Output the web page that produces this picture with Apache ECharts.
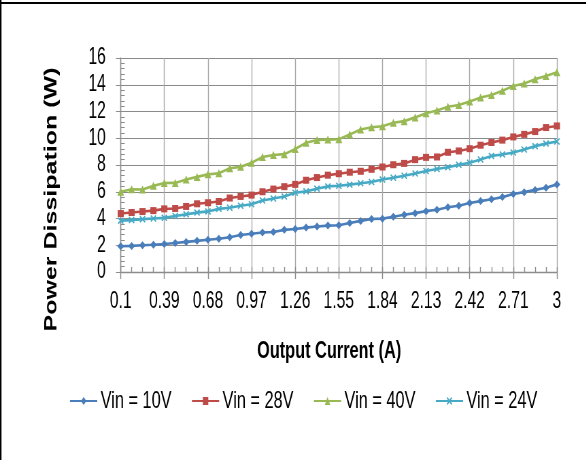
<!DOCTYPE html>
<html>
<head>
<meta charset="utf-8">
<script src="https://cdn.jsdelivr.net/npm/echarts@6/dist/echarts.min.js"></script>
<style>
html,body{margin:0;padding:0;background:#fff;overflow:hidden;width:586px;height:460px}
#c{width:862px;height:460px;transform-origin:0 0;transform:scaleX(0.68)}
</style>
</head>
<body>
<div id="c"></div>
<script>
var categories = ["0.1","0.1725","0.245","0.3175","0.39","0.4625","0.535","0.6075","0.68","0.7525","0.825","0.8975","0.97","1.0425","1.115","1.1875","1.26","1.3325","1.405","1.4775","1.55","1.6225","1.695","1.7675","1.84","1.9125","1.985","2.0575","2.13","2.2025","2.275","2.3475","2.42","2.4925","2.565","2.6375","2.71","2.7825","2.855","2.9275","3"];
var seriesNames = ["Vin = 10V","Vin = 28V","Vin = 40V","Vin = 24V"];
var vin10 = [1.93,1.95,2.0,2.04,2.09,2.17,2.25,2.33,2.41,2.49,2.6,2.77,2.86,2.95,2.99,3.15,3.22,3.32,3.4,3.47,3.5,3.66,3.82,3.96,3.99,4.13,4.28,4.4,4.55,4.66,4.84,4.95,5.16,5.3,5.44,5.6,5.83,5.97,6.14,6.3,6.55];
var vin28 = [4.37,4.45,4.52,4.59,4.72,4.75,4.9,5.1,5.18,5.27,5.53,5.65,5.75,6.0,6.2,6.38,6.55,6.86,7.06,7.24,7.35,7.46,7.53,7.68,7.85,8.02,8.12,8.4,8.57,8.6,8.95,9.05,9.22,9.48,9.68,9.86,10.1,10.29,10.5,10.8,10.92];
var vin40 = [6.0,6.19,6.17,6.44,6.65,6.66,6.91,7.11,7.3,7.38,7.76,7.86,8.17,8.6,8.75,8.81,9.2,9.66,9.87,9.9,9.92,10.28,10.65,10.82,10.9,11.16,11.28,11.56,11.87,12.07,12.35,12.48,12.75,13.05,13.24,13.56,13.9,14.09,14.42,14.65,14.94];
var vin24 = [3.84,3.88,3.95,4.0,4.05,4.19,4.31,4.44,4.53,4.72,4.8,4.95,5.07,5.35,5.5,5.64,5.93,6.03,6.23,6.4,6.45,6.53,6.63,6.73,6.92,7.05,7.2,7.37,7.55,7.7,7.83,8.01,8.17,8.41,8.68,8.79,8.93,9.16,9.41,9.6,9.76];
var yMin = 0, yMax = 16, yStep = 2;

var sans = "'Liberation Sans',Arial,sans-serif";
var xMark = 'path://M0,1.5L1.5,0L5,3.5L8.5,0L10,1.5L6.5,5L10,8.5L8.5,10L5,6.5L1.5,10L0,8.5L3.5,5Z';
function mk(name, data, color, symbol, size) {
  return {
    name: name, type: 'line', data: data, xAxisIndex: 0, yAxisIndex: 0,
    symbol: symbol, symbolSize: size, showAllSymbol: true,
    lineStyle: { color: color, width: 2.6 },
    itemStyle: { color: color },
    emphasis: { disabled: true }, animation: false
  };
}
var chart = echarts.init(document.getElementById('c'), null, { renderer: 'canvas' });
chart.setOption({
  backgroundColor: '#fff',
  animation: false,
  color: ['#4A7EBB','#BE4B48','#98B954','#46AAC5'],
  grid: { left: 177.5, right: 43, top: 58, bottom: 188, containLabel: false },
  legend: {
    data: seriesNames, left: 97, top: 384, itemWidth: 40, itemHeight: 10, itemGap: 29,
    textStyle: { fontFamily: sans, fontSize: 24, color: '#000' }
  },
  xAxis: [{
    type: 'category', data: categories, boundaryGap: false, position: 'bottom',
    axisLine: { show: true, lineStyle: { color: '#8c8c8c', width: 1.4 } },
    axisTick: { show: true, interval: 3, length: 7, lineStyle: { color: '#8c8c8c', width: 1.4 } },
    axisLabel: { interval: 3, margin: 18, fontFamily: sans, fontSize: 23, color: '#000' },
    splitLine: { show: true, interval: 3, lineStyle: { color: '#a8a8a8', width: 1.4 } }
  }, {
    type: 'category', data: categories, boundaryGap: false, position: 'bottom',
    axisLine: { show: false },
    axisTick: { show: true, inside: true, interval: 0, length: 5, lineStyle: { color: '#8c8c8c', width: 1.4 } },
    axisLabel: { show: false },
    splitLine: { show: false }
  }],
  yAxis: [{
    type: 'value', min: yMin, max: yMax, interval: yStep, position: 'left',
    axisLine: { show: true, lineStyle: { color: '#8c8c8c', width: 1.4 } },
    axisTick: { show: true, length: 7, lineStyle: { color: '#8c8c8c' } },
    axisLabel: { margin: 22, fontFamily: sans, fontSize: 23, color: '#000' },
    splitLine: { show: true, lineStyle: { color: '#8a8a8a', width: 1 } }
  }, {
    type: 'value', min: yMin, max: yMax, interval: yStep, position: 'left',
    axisLine: { show: false },
    axisTick: { show: false, inside: true },
    minorTick: { show: true, splitNumber: 5, length: 6, lineStyle: { color: '#8c8c8c' } },
    axisLabel: { show: false },
    splitLine: { show: false }
  }],
  series: [
    mk(seriesNames[0], vin10, '#4A7EBB', 'diamond', [10, 8]),
    mk(seriesNames[1], vin28, '#BE4B48', 'rect', [9, 7]),
    mk(seriesNames[2], vin40, '#98B954', 'triangle', [10, 8]),
    mk(seriesNames[3], vin24, '#46AAC5', xMark, [9, 7])
  ],
  graphic: [
    { type: 'rect', shape: { x: 0, y: 2, width: 862, height: 2 }, style: { fill: '#000' }, silent: true },
    { type: 'rect', shape: { x: 0, y: 0, width: 2.2, height: 460 }, style: { fill: '#000' }, silent: true },
    { type: 'text', x: 484, y: 351, silent: true,
      style: { text: 'Output Current (A)', textAlign: 'center', textVerticalAlign: 'middle',
               font: "bold 24px 'Liberation Sans',Arial,sans-serif", fill: '#000' } },
    { type: 'text', x: 76.5, y: 199.5, rotation: Math.PI / 2, silent: true,
      style: { text: 'Power Dissipation (W)', textAlign: 'center', textVerticalAlign: 'middle',
               font: "bold 25px 'Liberation Sans',Arial,sans-serif", fill: '#000' } }
  ]
});
</script>
</body>
</html>
